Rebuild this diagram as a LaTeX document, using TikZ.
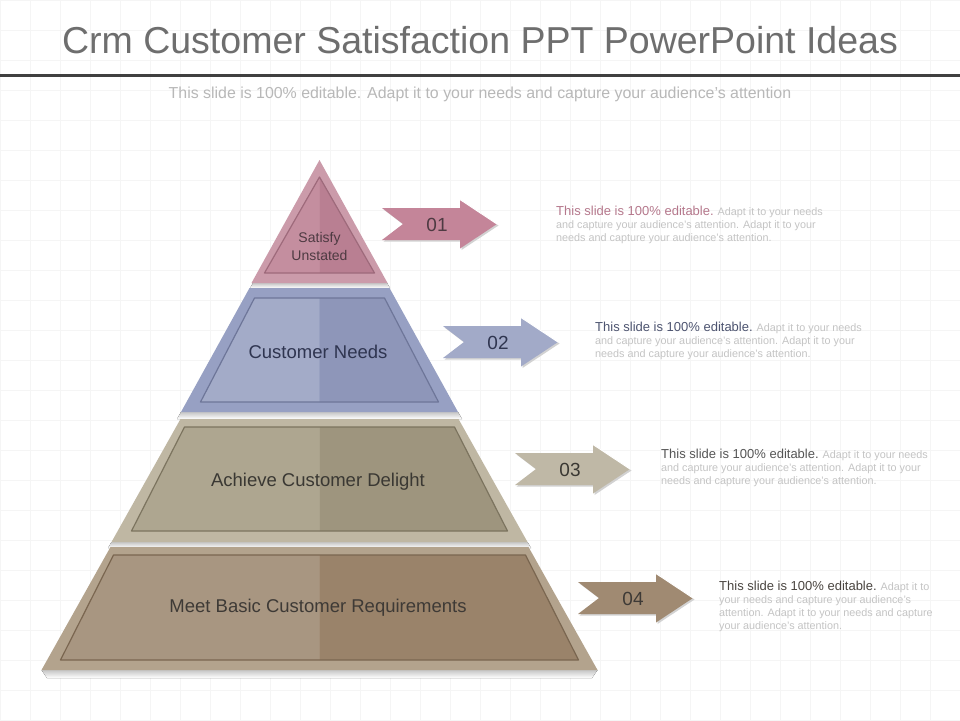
\documentclass[tikz,border=0pt]{standalone}
\usepackage{fontspec}
\setmainfont{Liberation Sans}
\usetikzlibrary{calc}
\definecolor{titlec}{HTML}{6E6E6E}
\definecolor{rulec}{HTML}{404040}
\definecolor{subc}{HTML}{B8B8B8}
\definecolor{gridc}{HTML}{F5F5F5}
\definecolor{restc}{HTML}{C4C4C4}
% tier 1 pink
\definecolor{pO}{HTML}{CB9BAA}
\definecolor{pL}{HTML}{C48E9F}
\definecolor{pR}{HTML}{B97F92}
\definecolor{pD}{HTML}{9E6A7B}
\definecolor{pA}{HTML}{C48599}
\definecolor{pT}{HTML}{4E3A42}
\definecolor{pH}{HTML}{B5788C}
% tier 2 blue
\definecolor{bO}{HTML}{97A0C3}
\definecolor{bL}{HTML}{A3ABC8}
\definecolor{bR}{HTML}{8E96B9}
\definecolor{bD}{HTML}{6E7699}
\definecolor{bA}{HTML}{A2AAC8}
\definecolor{bT}{HTML}{2F3550}
\definecolor{bH}{HTML}{4D5470}
% tier 3 khaki
\definecolor{kO}{HTML}{BFB7A3}
\definecolor{kL}{HTML}{AEA690}
\definecolor{kR}{HTML}{9E957E}
\definecolor{kD}{HTML}{7C745F}
\definecolor{kA}{HTML}{BFB8A6}
\definecolor{kT}{HTML}{3A3833}
\definecolor{kH}{HTML}{555555}
% tier 4 brown
\definecolor{wO}{HTML}{B3A38D}
\definecolor{wL}{HTML}{A89681}
\definecolor{wR}{HTML}{9A836A}
\definecolor{wD}{HTML}{7A6650}
\definecolor{wA}{HTML}{A08A72}
\definecolor{wT}{HTML}{3E3A36}
\definecolor{wH}{HTML}{4A4540}
\tikzset{
  tierlabel/.style={font=\fontsize{18.5}{22}\selectfont, inner sep=0pt},
  numlabel/.style={font=\fontsize{19}{22}\selectfont, inner sep=0pt},
  desc/.style={anchor=north west, inner sep=0pt, align=left,
    font=\fontsize{10.8}{13}\selectfont, text=restc},
  tiershadow/.style={top color=gray!45, bottom color=white},
}
\newcommand{\deschead}[2]{{\fontsize{13}{13}\selectfont\color{#1}#2}}
\newcommand{\chevpath}[2]{(#1,#2-16) -- (#1+78,#2-16) -- (#1+78,#2-24.5) -- (#1+115,#2) -- (#1+78,#2+24.5) -- (#1+78,#2+16) -- (#1,#2+16) -- (#1+21,#2) -- cycle}
\begin{document}
\begin{tikzpicture}[x=1pt,y=-1pt]
\useasboundingbox (0,0) rectangle (960,720);
\fill[white] (0,0) rectangle (960,720);
% faint background grid
\foreach \gx in {0,30,...,960} { \draw[gridc, line width=0.6pt] (\gx,0) -- (\gx,720); }
\foreach \gy in {0,30,...,720} { \draw[gridc, line width=0.6pt] (0,\gy) -- (960,\gy); }

% title and subtitle
\node[font=\fontsize{37.5}{40}\selectfont, text=titlec, inner sep=0pt] (title) at (480,40) {Crm Customer Satisfaction PPT PowerPoint Ideas};
\draw[rulec, line width=3pt] (0,75) -- (960,75);
\node[font=\fontsize{15.9}{18}\selectfont, text=subc, inner sep=0pt] (subtitle) at (480,94) {This slide is 100\% editable. Adapt it to your needs and capture your audience's attention};

% shadows under tiers
\fill[tiershadow] (253,283) -- (387,283) -- (390,288) -- (250,288) -- cycle;
\fill[tiershadow] (181,412) -- (458,412) -- (462,419) -- (177,419) -- cycle;
\fill[tiershadow] (111.5,542) -- (527.5,542) -- (531,548) -- (108,548) -- cycle;
\fill[tiershadow] (41.5,670) -- (597.5,670) -- (592,678) -- (47,678) -- cycle;

% tier 1
\fill[pO] (319.5,160) -- (387.5,283) -- (251.5,283) -- cycle;
\fill[pL] (319.5,177) -- (319.5,273) -- (264.5,273) -- cycle;
\fill[pR] (319.5,177) -- (374.5,273) -- (319.5,273) -- cycle;
\draw[pD, line width=1.2pt, line join=round] (319.5,177) -- (374.5,273) -- (264.5,273) -- cycle;
\node[tierlabel, font=\fontsize{14}{18}\selectfont, text=pT, align=center] (t1) at (319.5,246) {Satisfy\\Unstated};

% tier 2
\fill[bO] (249.5,288) -- (389.5,288) -- (458,412) -- (181,412) -- cycle;
\fill[bL] (254.5,298) -- (319.5,298) -- (319.5,402) -- (200.5,402) -- cycle;
\fill[bR] (319.5,298) -- (384.5,298) -- (438.5,402) -- (319.5,402) -- cycle;
\draw[bD, line width=1.2pt, line join=round] (254.5,298) -- (384.5,298) -- (438.5,402) -- (200.5,402) -- cycle;
\node[tierlabel, text=bT] (t2) at (318,352) {Customer Needs};

% tier 3
\fill[kO] (180.5,419) -- (458.5,419) -- (527.5,542) -- (111.5,542) -- cycle;
\fill[kL] (184.5,427) -- (319.5,427) -- (319.5,531) -- (131.5,531) -- cycle;
\fill[kR] (319.5,427) -- (454.5,427) -- (507.5,531) -- (319.5,531) -- cycle;
\draw[kD, line width=1.2pt, line join=round] (184.5,427) -- (454.5,427) -- (507.5,531) -- (131.5,531) -- cycle;
\node[tierlabel, text=kT] (t3) at (318,482) {Achieve Customer Delight};

% tier 4
\fill[wO] (110.5,547) -- (528.5,547) -- (597.5,670) -- (41.5,670) -- cycle;
\fill[wL] (113.5,555) -- (319.5,555) -- (319.5,660) -- (60.5,660) -- cycle;
\fill[wR] (319.5,555) -- (525.5,555) -- (578.5,660) -- (319.5,660) -- cycle;
\draw[wD, line width=1.2pt, line join=round] (113.5,555) -- (525.5,555) -- (578.5,660) -- (60.5,660) -- cycle;
\node[tierlabel, text=wT] (t4) at (318,608) {Meet Basic Customer Requirements};

% arrows
\foreach \L/\C/\col/\num/\tc/\nm in {382/224/pA/01/pT/a1, 443/342/bA/02/bT/a2, 515/469/kA/03/kT/a3, 578/598/wA/04/wT/a4}{
  \fill[gray!35] [shift={(1.5,1.5)}] \chevpath{\L}{\C};
  \fill[\col] \chevpath{\L}{\C};
  \draw[white, line width=1pt, line join=round] (\L+78,\C-24.5) -- (\L+115,\C);
  \node[numlabel, text=\tc] (\nm) at (\L+55,\C+1) {\num};
}

% descriptions
\node[desc] (d1) at (556,206) {\deschead{pH}{This slide is 100\% editable.} Adapt it to your needs\\and capture your audience's attention. Adapt it to your\\needs and capture your audience's attention.};
\node[desc] (d2) at (595,322) {\deschead{bH}{This slide is 100\% editable.} Adapt it to your needs\\and capture your audience's attention. Adapt it to your\\needs and capture your audience's attention.};
\node[desc] (d3) at (661,449) {\deschead{kH}{This slide is 100\% editable.} Adapt it to your needs\\and capture your audience's attention. Adapt it to your\\needs and capture your audience's attention.};
\node[desc] (d4) at (719,581) {\deschead{wH}{This slide is 100\% editable.} Adapt it to\\your needs and capture your audience's\\attention. Adapt it to your needs and capture\\your audience's attention.};
\end{tikzpicture}
\end{document}
